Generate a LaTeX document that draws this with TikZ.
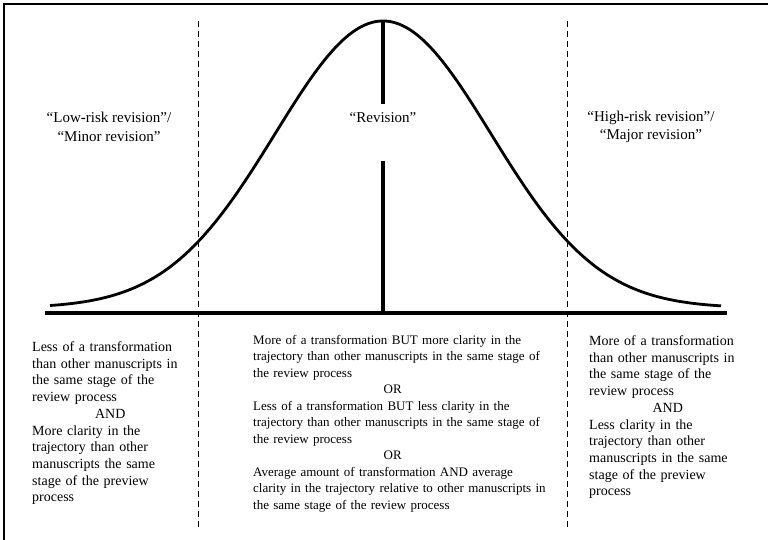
\documentclass[tikz,border=0pt]{standalone}
\usepackage{fontspec}
\setmainfont{Liberation Serif}
\usepackage{tikz}
\usetikzlibrary{positioning,calc}
\newcommand{\joinword}[2]{\makebox[#1]{#2}}

\begin{document}
\begin{tikzpicture}[
  x=1pt, y=-1pt,
  font=\fontsize{14}{16.7}\selectfont,
  zonelabel/.style={
    align=center,
    inner sep=1pt,
    font=\fontsize{15}{18.5}\selectfont
  },
  criteria/.style={
    anchor=north west,
    align=left,
    inner sep=0pt
  },
  divider/.style={line width=0.9pt, dash pattern=on 6pt off 4pt},
  thickbar/.style={line width=4.5pt},
  bellcurve/.style={line width=2.8pt, line join=round}
]
\useasboundingbox (0,0) rectangle (768,540);
% frame (only top and left edges show)
\draw[line width=1.3pt] (4,540) -- (4,4) -- (768,4);

% axis, peak and dividers
\coordinate (axisL) at (45,313);
\coordinate (axisR) at (727,313);
\coordinate (peak) at (383,21);
\coordinate (gapTop) at (383,104);
\coordinate (gapBot) at (383,161);
\coordinate (axisM) at (383,313);
\coordinate (lowTop) at (198,21);
\coordinate (lowBot) at (198,528);
\coordinate (highTop) at (567,21);
\coordinate (highBot) at (567,528);

\draw[bellcurve] plot[domain=50:721, samples=120, smooth]
  (\x, {308 - 287*exp(-0.5*((\x-383)/108)^2)});
\draw[thickbar] (axisL) -- (axisR);
\draw[thickbar] (peak) -- (gapTop);
\draw[thickbar] (gapBot) -- (axisM);
\draw[divider] (lowTop) -- (lowBot);
\draw[divider] (highTop) -- (highBot);

% zone names
\node[zonelabel] (lowlab) at (109,127) {“Low\textbf{-}risk revision”/\\“Minor revision”};
\node[zonelabel] (revlab) at (383,118) {“Revision”};
\node[zonelabel] (highlab) at (651,127) {“High\textbf{-}risk revision”/\\“Major revision”};

% criteria under the axis
\node[criteria, text width=160pt] (lowtext) at (32,341.5) {Less of a transformation\\
than other manuscripts in\\
the same stage of the\\
review process\\
\joinword{156pt}{AND}\\
More clarity in the\\
trajectory than other\\
manuscripts the same\\
stage of the preview\\
process};

\node[criteria, text width=300pt, font=\fontsize{13}{16.5}\selectfont] (midtext) at (253,335) {More of a transformation BUT more clarity in the\\
trajectory than other manuscripts in the same stage of\\
the review process\\
\joinword{279pt}{OR}\\
Less of a transformation BUT less clarity in the\\
trajectory than other manuscripts in the same stage of\\
the review process\\
\joinword{279pt}{OR}\\
Average amount of transformation AND average\\
clarity in the trajectory relative to other manuscripts in\\
the same stage of the review process};

\node[criteria, text width=160pt] (hightext) at (589,335.5) {More of a transformation\\
than other manuscripts in\\
the same stage of the\\
review process\\
\joinword{157pt}{AND}\\
Less clarity in the\\
trajectory than other\\
manuscripts in the same\\
stage of the preview\\
process};
\end{tikzpicture}
\end{document}
